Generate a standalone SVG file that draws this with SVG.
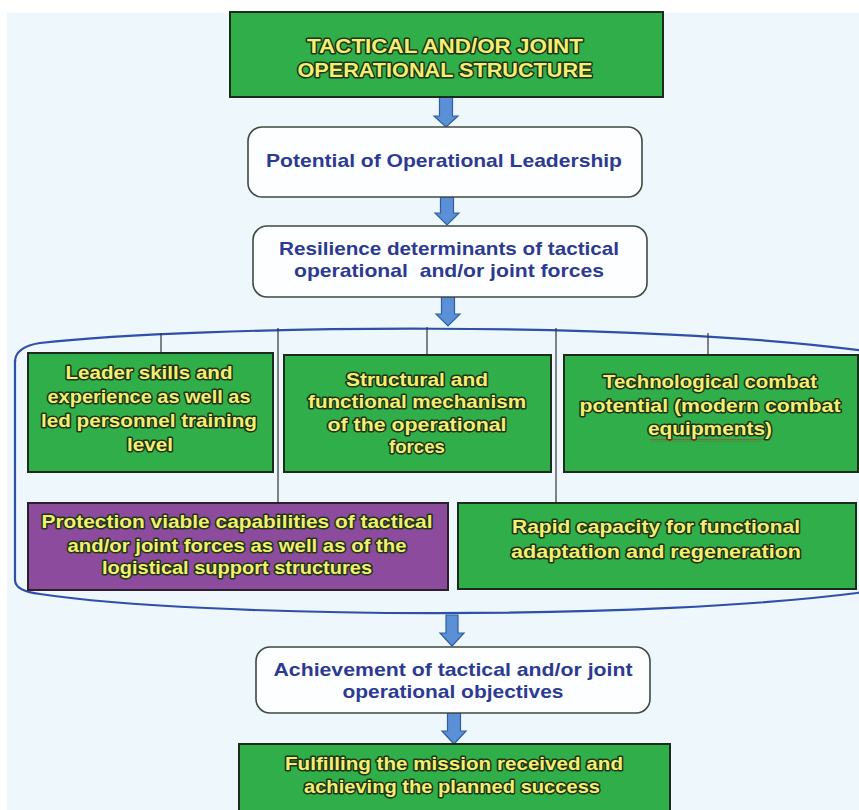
<svg xmlns="http://www.w3.org/2000/svg" width="859" height="810" viewBox="0 0 859 810">
<defs>
<style>
.bg{fill:#eef7fb}
.gbox{fill:#2fae4a;stroke:#1d2b1d;stroke-width:2}
.pbox{fill:#8c4b9d;stroke:#2a1f2a;stroke-width:2}
.wbox{fill:#fcfeff;stroke:#3f4a40;stroke-width:1.6}
.yt{font-family:"Liberation Sans",Arial,sans-serif;font-weight:bold;font-size:19px;fill:#f3ef72;stroke:#1f3515;stroke-width:3;paint-order:stroke;stroke-linejoin:round;text-anchor:middle}
.bt{font-family:"Liberation Sans",Arial,sans-serif;font-weight:bold;font-size:19px;fill:#2c3a92;text-anchor:middle}
.arr{fill:#5b90d6;stroke:#2f5ea6;stroke-width:1.2;stroke-linejoin:miter}
.ln{stroke:#333;stroke-width:1.2;fill:none}
.cont{fill:none;stroke:#2f4fa8;stroke-width:2.2}
</style>
<pattern id="squig" width="4" height="3" patternUnits="userSpaceOnUse">
<polyline points="0,2.5 2,0.5 4,2.5" fill="none" stroke="#d02020" stroke-width="0.9"/>
</pattern>
</defs>
<rect x="0" y="0" width="859" height="810" fill="#ffffff"/>
<rect class="bg" x="7" y="13" width="852" height="797"/>

<g id="container">
<path class="cont" d="M15,362 Q15,347 40,343 C200,325 650,320 872,352"/>
<path class="cont" d="M15,360 L15,580 Q15,591 40,594 C200,618 650,622 872,591"/>
</g>

<g id="connectors">
<line class="ln" x1="161" y1="333" x2="161" y2="353"/>
<line class="ln" x1="278" y1="328" x2="278" y2="503"/>
<line class="ln" x1="427" y1="327" x2="427" y2="355"/>
<line class="ln" x1="556" y1="328" x2="556" y2="503"/>
<line class="ln" x1="708" y1="333" x2="708" y2="355"/>
<path class="arr" d="M439.5,97 H452.5 V116 H458 L446,127 L434,116 H439.5 Z"/>
<path class="arr" d="M440.5,197 H453.5 V213 H459 L447,225 L435,213 H440.5 Z"/>
<path class="arr" d="M441.5,297 H454.5 V314 H460 L448,326 L436,314 H441.5 Z"/>
<path class="arr" d="M446,615 H458 V633 H464 L452,646 L440,633 H446 Z"/>
<path class="arr" d="M447.5,713 H460.5 V731 H466 L454,744 L442,731 H447.5 Z"/>
</g>

<g id="n-top">
<rect class="gbox" x="230" y="12" width="433" height="85"/>
<text class="yt" x="445" y="53" style="font-size:21px" textLength="276" lengthAdjust="spacingAndGlyphs">TACTICAL AND/OR JOINT</text>
<text class="yt" x="445" y="77" style="font-size:21px" textLength="295" lengthAdjust="spacingAndGlyphs">OPERATIONAL STRUCTURE</text>
</g>

<g id="n-potential">
<rect class="wbox" x="248" y="127" width="394" height="70" rx="14"/>
<text class="bt" x="444" y="167" textLength="356" lengthAdjust="spacingAndGlyphs">Potential of Operational Leadership</text>
</g>

<g id="n-resilience">
<rect class="wbox" x="253" y="226" width="394" height="71" rx="14"/>
<text class="bt" x="449" y="255" textLength="340" lengthAdjust="spacingAndGlyphs">Resilience determinants of tactical</text>
<text class="bt" x="449" y="277" textLength="310" lengthAdjust="spacingAndGlyphs" xml:space="preserve">operational  and/or joint forces</text>
</g>

<g id="n-leader">
<rect class="gbox" x="28" y="353" width="245" height="119"/>
<text class="yt" x="149" y="379" textLength="167" lengthAdjust="spacingAndGlyphs">Leader skills and</text>
<text class="yt" x="149" y="403" textLength="203" lengthAdjust="spacingAndGlyphs">experience as well as</text>
<text class="yt" x="149" y="427" textLength="216" lengthAdjust="spacingAndGlyphs">led personnel training</text>
<text class="yt" x="150" y="451" textLength="46" lengthAdjust="spacingAndGlyphs">level</text>
</g>

<g id="n-structural">
<rect class="gbox" x="284" y="355" width="267" height="117"/>
<text class="yt" x="417" y="386" textLength="142" lengthAdjust="spacingAndGlyphs">Structural and</text>
<text class="yt" x="417" y="408" textLength="218" lengthAdjust="spacingAndGlyphs">functional mechanism</text>
<text class="yt" x="417" y="431" textLength="179" lengthAdjust="spacingAndGlyphs">of the operational</text>
<text class="yt" x="417" y="453" textLength="56" lengthAdjust="spacingAndGlyphs">forces</text>
</g>

<g id="n-technological">
<rect class="gbox" x="564" y="355" width="294" height="117"/>
<text class="yt" x="710" y="388" textLength="214" lengthAdjust="spacingAndGlyphs">Technological combat</text>
<text class="yt" x="710" y="412" textLength="261" lengthAdjust="spacingAndGlyphs">potential (modern combat</text>
<text class="yt" x="710" y="435" textLength="124" lengthAdjust="spacingAndGlyphs">equipments)</text>
<rect x="650" y="439" width="112" height="3" fill="url(#squig)"/>
</g>

<g id="n-protection">
<rect class="pbox" x="28" y="503" width="420" height="87"/>
<text class="yt" x="237" y="528" textLength="391" lengthAdjust="spacingAndGlyphs">Protection viable capabilities of tactical</text>
<text class="yt" x="237" y="552" textLength="339" lengthAdjust="spacingAndGlyphs">and/or joint forces as well as of the</text>
<text class="yt" x="237" y="574" textLength="270" lengthAdjust="spacingAndGlyphs">logistical support structures</text>
</g>

<g id="n-rapid">
<rect class="gbox" x="458" y="503" width="398" height="86"/>
<text class="yt" x="656" y="533" textLength="288" lengthAdjust="spacingAndGlyphs">Rapid capacity for functional</text>
<text class="yt" x="656" y="558" textLength="290" lengthAdjust="spacingAndGlyphs">adaptation and regeneration</text>
</g>

<g id="n-achievement">
<rect class="wbox" x="256" y="647" width="394" height="66" rx="14"/>
<text class="bt" x="453" y="676" textLength="359" lengthAdjust="spacingAndGlyphs">Achievement of tactical and/or joint</text>
<text class="bt" x="453" y="698" textLength="221" lengthAdjust="spacingAndGlyphs">operational objectives</text>
</g>

<g id="n-fulfilling">
<rect class="gbox" x="239" y="744" width="431" height="71"/>
<text class="yt" x="454" y="770" textLength="338" lengthAdjust="spacingAndGlyphs">Fulfilling the mission received and</text>
<text class="yt" x="452" y="793" textLength="296" lengthAdjust="spacingAndGlyphs">achieving the planned success</text>
</g>
</svg>
